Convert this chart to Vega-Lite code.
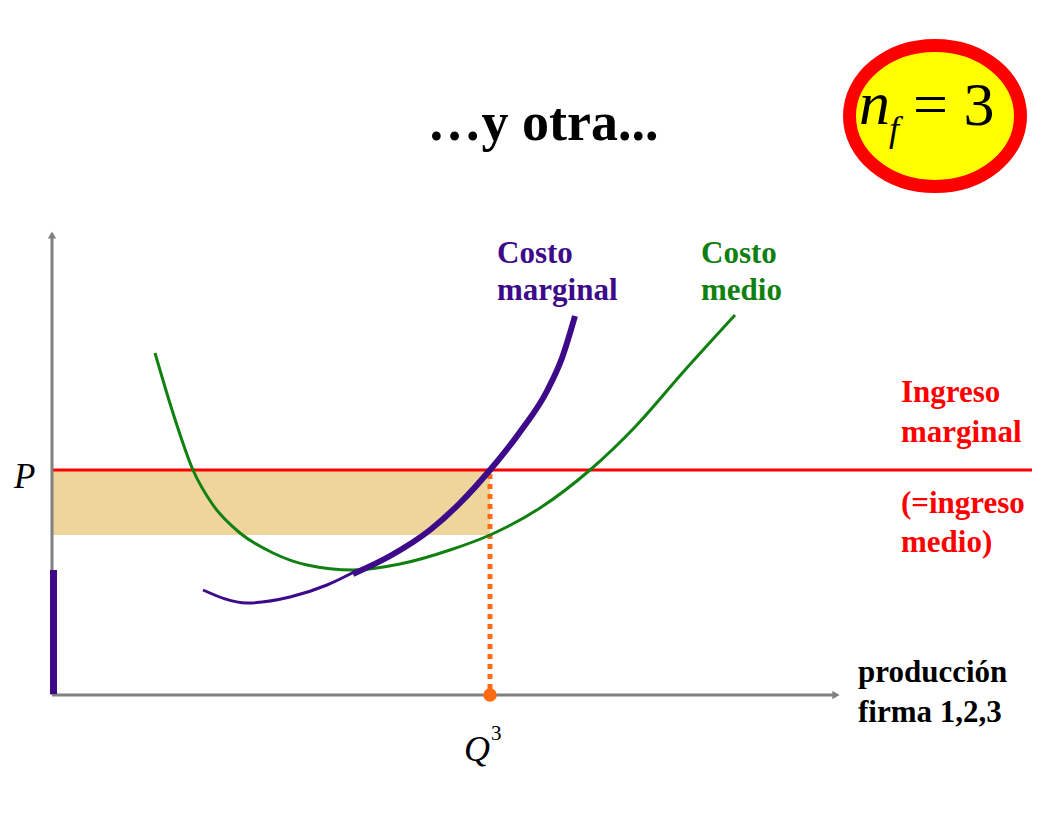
{
  "$schema": "https://vega.github.io/schema/vega-lite/v6.json",
  "width": 1056,
  "height": 816,
  "padding": 0,
  "autosize": {"type": "fit", "contains": "padding"},
  "background": "white",
  "config": {"view": {"stroke": null}},
  "datasets": {
    "area": [{"x": 52, "x2": 490, "y": 471, "y2": 535}],
    "priceline": [{"x": 52, "x2": 1032, "y": 470}],
    "qline": [{"x": 490, "y": 474, "y2": 690}],
    "yaxis": [{"x": 52, "y": 236, "y2": 695}],
    "xaxis": [{"x": 52, "x2": 834, "y": 695}],
    "yarrow": [{"x": 52, "y": 235}],
    "xarrow": [{"x": 836, "y": 695}],
    "pbar": [{"x": 53.5, "y": 570, "y2": 694}],
    "mc_thin": [
      {"x": 203, "y": 590}, {"x": 247, "y": 603}, {"x": 290, "y": 597}, {"x": 327, "y": 585}, {"x": 356, "y": 571}
    ],
    "mc_thick": [
      {"x": 353, "y": 574}, {"x": 390, "y": 556}, {"x": 430, "y": 530}, {"x": 460, "y": 503},
      {"x": 490, "y": 470}, {"x": 520, "y": 432}, {"x": 547, "y": 391}, {"x": 562, "y": 358}, {"x": 575, "y": 316}
    ],
    "ac": [
      {"x": 155, "y": 353}, {"x": 173, "y": 413}, {"x": 193, "y": 470}, {"x": 213, "y": 505},
      {"x": 240, "y": 533}, {"x": 273, "y": 553}, {"x": 307, "y": 565}, {"x": 353, "y": 570},
      {"x": 400, "y": 564}, {"x": 450, "y": 550}, {"x": 490, "y": 535}, {"x": 540, "y": 508},
      {"x": 590, "y": 470}, {"x": 635, "y": 427}, {"x": 685, "y": 370}, {"x": 735, "y": 315}
    ],
    "qdot": [{"x": 490, "y": 695}],
    "badge": [{"x": 935, "y": 116}],
    "title": [{"x": 543, "y": 140, "t": "…y otra..."}],
    "mc_label": [{"x": 497, "y": 263, "t": "Costo"}, {"x": 497, "y": 300, "t": "marginal"}],
    "ac_label": [{"x": 701, "y": 263, "t": "Costo"}, {"x": 701, "y": 300, "t": "medio"}],
    "mr_label": [
      {"x": 901, "y": 402, "t": "Ingreso"}, {"x": 901, "y": 442, "t": "marginal"},
      {"x": 901, "y": 513, "t": "(=ingreso"}, {"x": 901, "y": 552, "t": "medio)"}
    ],
    "x_label": [{"x": 858, "y": 682, "t": "producción"}, {"x": 858, "y": 722, "t": "firma 1,2,3"}],
    "p_label": [{"x": 14, "y": 488, "t": "P"}],
    "q_label": [{"x": 464, "y": 761, "t": "Q"}],
    "q_sup": [{"x": 491, "y": 740, "t": "3"}],
    "n_label": [{"x": 859, "y": 124, "t": "n"}],
    "f_label": [{"x": 889, "y": 141, "t": "f"}],
    "eq_label": [{"x": 913, "y": 125, "t": "= 3"}]
  },
  "encoding": {
    "x": {"field": "x", "type": "quantitative", "scale": {"domain": [0, 1056], "nice": false, "zero": false}, "axis": null},
    "y": {"field": "y", "type": "quantitative", "scale": {"domain": [0, 816], "nice": false, "zero": false, "reverse": true}, "axis": null}
  },
  "layer": [
    {"data": {"name": "area"}, "mark": {"type": "rect", "fill": "#efd49c", "stroke": null},
     "encoding": {"x2": {"field": "x2"}, "y2": {"field": "y2"}}},
    {"data": {"name": "priceline"}, "mark": {"type": "rule", "color": "#ff0000", "strokeWidth": 3},
     "encoding": {"x2": {"field": "x2"}}},
    {"data": {"name": "qline"}, "mark": {"type": "rule", "color": "#ff6a13", "strokeWidth": 5, "strokeDash": [5, 5]},
     "encoding": {"y2": {"field": "y2"}}},
    {"data": {"name": "yaxis"}, "mark": {"type": "rule", "color": "#808080", "strokeWidth": 3},
     "encoding": {"y2": {"field": "y2"}}},
    {"data": {"name": "xaxis"}, "mark": {"type": "rule", "color": "#808080", "strokeWidth": 3},
     "encoding": {"x2": {"field": "x2"}}},
    {"data": {"name": "yarrow"}, "mark": {"type": "point", "shape": "triangle-up", "filled": true, "color": "#808080", "size": 70, "opacity": 1}},
    {"data": {"name": "xarrow"}, "mark": {"type": "point", "shape": "triangle-right", "filled": true, "color": "#808080", "size": 70, "opacity": 1}},
    {"data": {"name": "pbar"}, "mark": {"type": "rule", "color": "#3d0a8a", "strokeWidth": 7},
     "encoding": {"y2": {"field": "y2"}}},
    {"data": {"name": "ac"}, "mark": {"type": "line", "color": "#108010", "strokeWidth": 3, "interpolate": "monotone"}},
    {"data": {"name": "mc_thin"}, "mark": {"type": "line", "color": "#3d0a8a", "strokeWidth": 3, "interpolate": "monotone"}},
    {"data": {"name": "mc_thick"}, "mark": {"type": "line", "color": "#3d0a8a", "strokeWidth": 6, "interpolate": "monotone"}},
    {"data": {"name": "qdot"}, "mark": {"type": "point", "shape": "circle", "filled": true, "color": "#ff6a13", "size": 180, "opacity": 1}},
    {"data": {"name": "badge"}, "mark": {"type": "point", "shape": "M -1 0 A 1 0.825 0 1 1 1 0 A 1 0.825 0 1 1 -1 0 Z", "filled": true, "fill": "#ffff00", "stroke": "#ff0000", "strokeWidth": 13, "size": 29241, "opacity": 1, "fillOpacity": 1, "strokeOpacity": 1}},
    {"data": {"name": "title"}, "mark": {"type": "text", "font": "Liberation Serif", "fontWeight": "bold", "fontSize": 54, "align": "center", "baseline": "alphabetic", "color": "#000000"},
     "encoding": {"text": {"field": "t"}}},
    {"data": {"name": "mc_label"}, "mark": {"type": "text", "font": "Liberation Serif", "fontWeight": "bold", "fontSize": 31, "align": "left", "baseline": "alphabetic", "color": "#3d0a8a"},
     "encoding": {"text": {"field": "t"}}},
    {"data": {"name": "ac_label"}, "mark": {"type": "text", "font": "Liberation Serif", "fontWeight": "bold", "fontSize": 31, "align": "left", "baseline": "alphabetic", "color": "#108010"},
     "encoding": {"text": {"field": "t"}}},
    {"data": {"name": "mr_label"}, "mark": {"type": "text", "font": "Liberation Serif", "fontWeight": "bold", "fontSize": 31, "align": "left", "baseline": "alphabetic", "color": "#ff0000"},
     "encoding": {"text": {"field": "t"}}},
    {"data": {"name": "x_label"}, "mark": {"type": "text", "font": "Liberation Serif", "fontWeight": "bold", "fontSize": 31, "align": "left", "baseline": "alphabetic", "color": "#000000"},
     "encoding": {"text": {"field": "t"}}},
    {"data": {"name": "p_label"}, "mark": {"type": "text", "font": "Liberation Serif", "fontStyle": "italic", "fontSize": 35, "align": "left", "baseline": "alphabetic", "color": "#000000"},
     "encoding": {"text": {"field": "t"}}},
    {"data": {"name": "q_label"}, "mark": {"type": "text", "font": "Liberation Serif", "fontStyle": "italic", "fontSize": 36, "align": "left", "baseline": "alphabetic", "color": "#000000"},
     "encoding": {"text": {"field": "t"}}},
    {"data": {"name": "q_sup"}, "mark": {"type": "text", "font": "Liberation Serif", "fontSize": 21, "align": "left", "baseline": "alphabetic", "color": "#000000"},
     "encoding": {"text": {"field": "t"}}},
    {"data": {"name": "n_label"}, "mark": {"type": "text", "font": "Liberation Serif", "fontStyle": "italic", "fontSize": 62, "align": "left", "baseline": "alphabetic", "color": "#000000"},
     "encoding": {"text": {"field": "t"}}},
    {"data": {"name": "f_label"}, "mark": {"type": "text", "font": "Liberation Serif", "fontStyle": "italic", "fontSize": 36, "align": "left", "baseline": "alphabetic", "color": "#000000"},
     "encoding": {"text": {"field": "t"}}},
    {"data": {"name": "eq_label"}, "mark": {"type": "text", "font": "Liberation Serif", "fontSize": 62, "align": "left", "baseline": "alphabetic", "color": "#000000"},
     "encoding": {"text": {"field": "t"}}}
  ]
}
